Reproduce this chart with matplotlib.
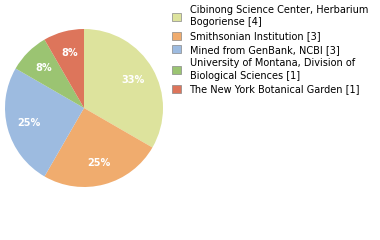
import matplotlib
matplotlib.use("Agg")
import matplotlib.pyplot as plt
from matplotlib.patches import Patch

labels = ["Cibinong Science Center, Herbarium\nBogoriense [4]",
          "Smithsonian Institution [3]",
          "Mined from GenBank, NCBI [3]",
          "University of Montana, Division of\nBiological Sciences [1]",
          "The New York Botanical Garden [1]"]
values = [4, 3, 3, 1, 1]
colors = ["#dde39d", "#f0ac6e", "#9dbbe0", "#9bc472", "#dd755b"]

fig = plt.figure(figsize=(3.8, 2.4), dpi=100)
ax = fig.add_axes([(84 - 79) / 380, (240 - 108 - 79) / 240, 158 / 380, 158 / 240])
wedges, texts, autotexts = ax.pie(values, colors=colors, startangle=90, counterclock=False,
                                  autopct=lambda p: f"{p:.0f}%", pctdistance=0.72,
                                  wedgeprops=dict(linewidth=0),
                                  textprops=dict(color="white", fontsize=7, fontweight="bold"))
ax.set_aspect("equal")
ax.set_xlim(-1, 1)
ax.set_ylim(-1, 1)

handles = [Patch(facecolor=c, edgecolor="#888888", linewidth=0.5) for c in colors]
leg = fig.legend(handles, labels, loc="upper left", bbox_to_anchor=(172 / 380, 1 - 5 / 240),
                 frameon=False, fontsize=7, handlelength=0.9, handleheight=0.9,
                 handletextpad=0.9, labelspacing=0.38, borderpad=0, borderaxespad=0)
for t in leg.get_texts():
    t.set_linespacing(1.3)
fig.savefig("out.png", dpi=100)
